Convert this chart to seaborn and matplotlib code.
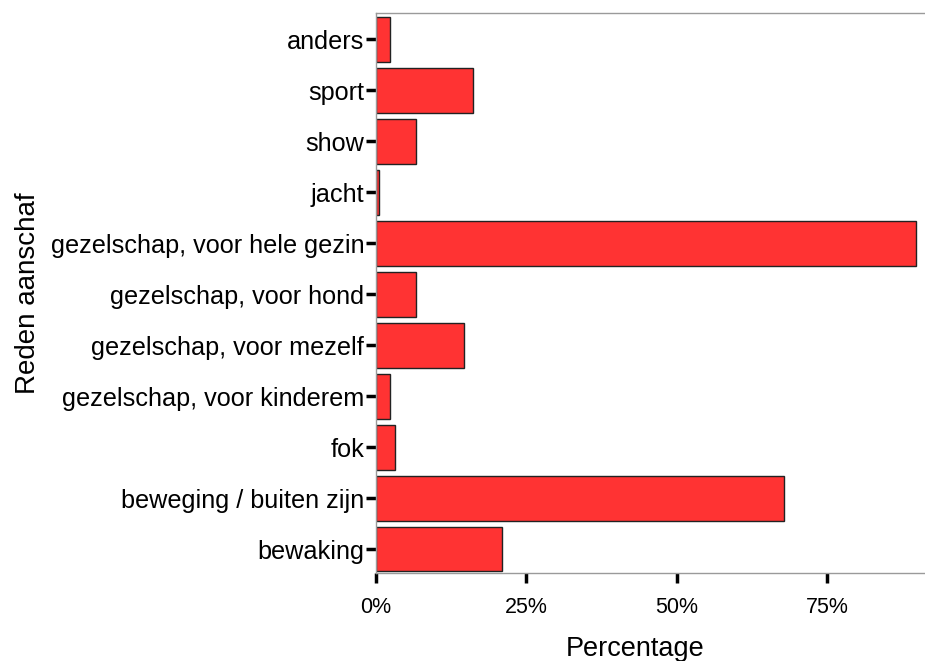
import matplotlib
matplotlib.use("Agg")
import matplotlib.pyplot as plt
import seaborn as sns
import pandas as pd

# values (percent of respondents, multiple answers)
reasons = [
    "anders",
    "sport",
    "show",
    "jacht",
    "gezelschap, voor hele gezin",
    "gezelschap, voor hond",
    "gezelschap, voor mezelf",
    "gezelschap, voor kinderem",
    "fok",
    "beweging / buiten zijn",
    "bewaking",
]
percentages = [2.4, 16.1, 6.6, 0.5, 89.8, 6.6, 14.7, 2.4, 3.1, 67.8, 20.9]
x_ticks = [0, 25, 50, 75]
x_tick_labels = ["0%", "25%", "50%", "75%"]

df = pd.DataFrame({"reden": reasons, "pct": percentages})

sns.set_style("white")
plt.rcParams["font.family"] = ["Liberation Sans", "DejaVu Sans"]
plt.rcParams["text.color"] = "black"
plt.rcParams["axes.labelcolor"] = "black"
plt.rcParams["xtick.color"] = "black"
plt.rcParams["ytick.color"] = "black"

fig = plt.figure(figsize=(9.25, 6.61), dpi=100)
ax = fig.add_axes([376 / 925, 1 - 573 / 661, 1 - 376 / 925, (573 - 13) / 661])

sns.barplot(data=df, x="pct", y="reden", order=reasons, orient="h",
            color="#FF3333", saturation=1, width=0.88,
            edgecolor="#222222", linewidth=1.0, ax=ax)

ax.set_xlim(0, 91.3)
ax.set_ylim(10.47, -0.52)
ax.set_xticks(x_ticks)
ax.set_xticklabels(x_tick_labels)

for side in ["top", "bottom", "left"]:
    ax.spines[side].set_color("#9a9a9a")
    ax.spines[side].set_linewidth(1.0)
ax.spines["right"].set_visible(False)

ax.tick_params(axis="x", direction="out", length=7.5, width=2.5, color="black",
               labelcolor="black", labelsize=15.5, pad=10)
ax.tick_params(axis="y", direction="out", length=7.5, width=2.5, color="black",
               labelcolor="black", labelsize=18.2, pad=1)
ax.xaxis.set_ticks_position("bottom")
ax.yaxis.set_ticks_position("left")

ax.set_xlabel("Percentage", fontsize=19.5, color="black")
ax.set_ylabel("Reden aanschaf", fontsize=20, color="black")
ax.xaxis.set_label_coords(0.472, -0.113)
ax.yaxis.set_label_coords(-0.61, 0.5)

fig.savefig("out.png", dpi=100)
